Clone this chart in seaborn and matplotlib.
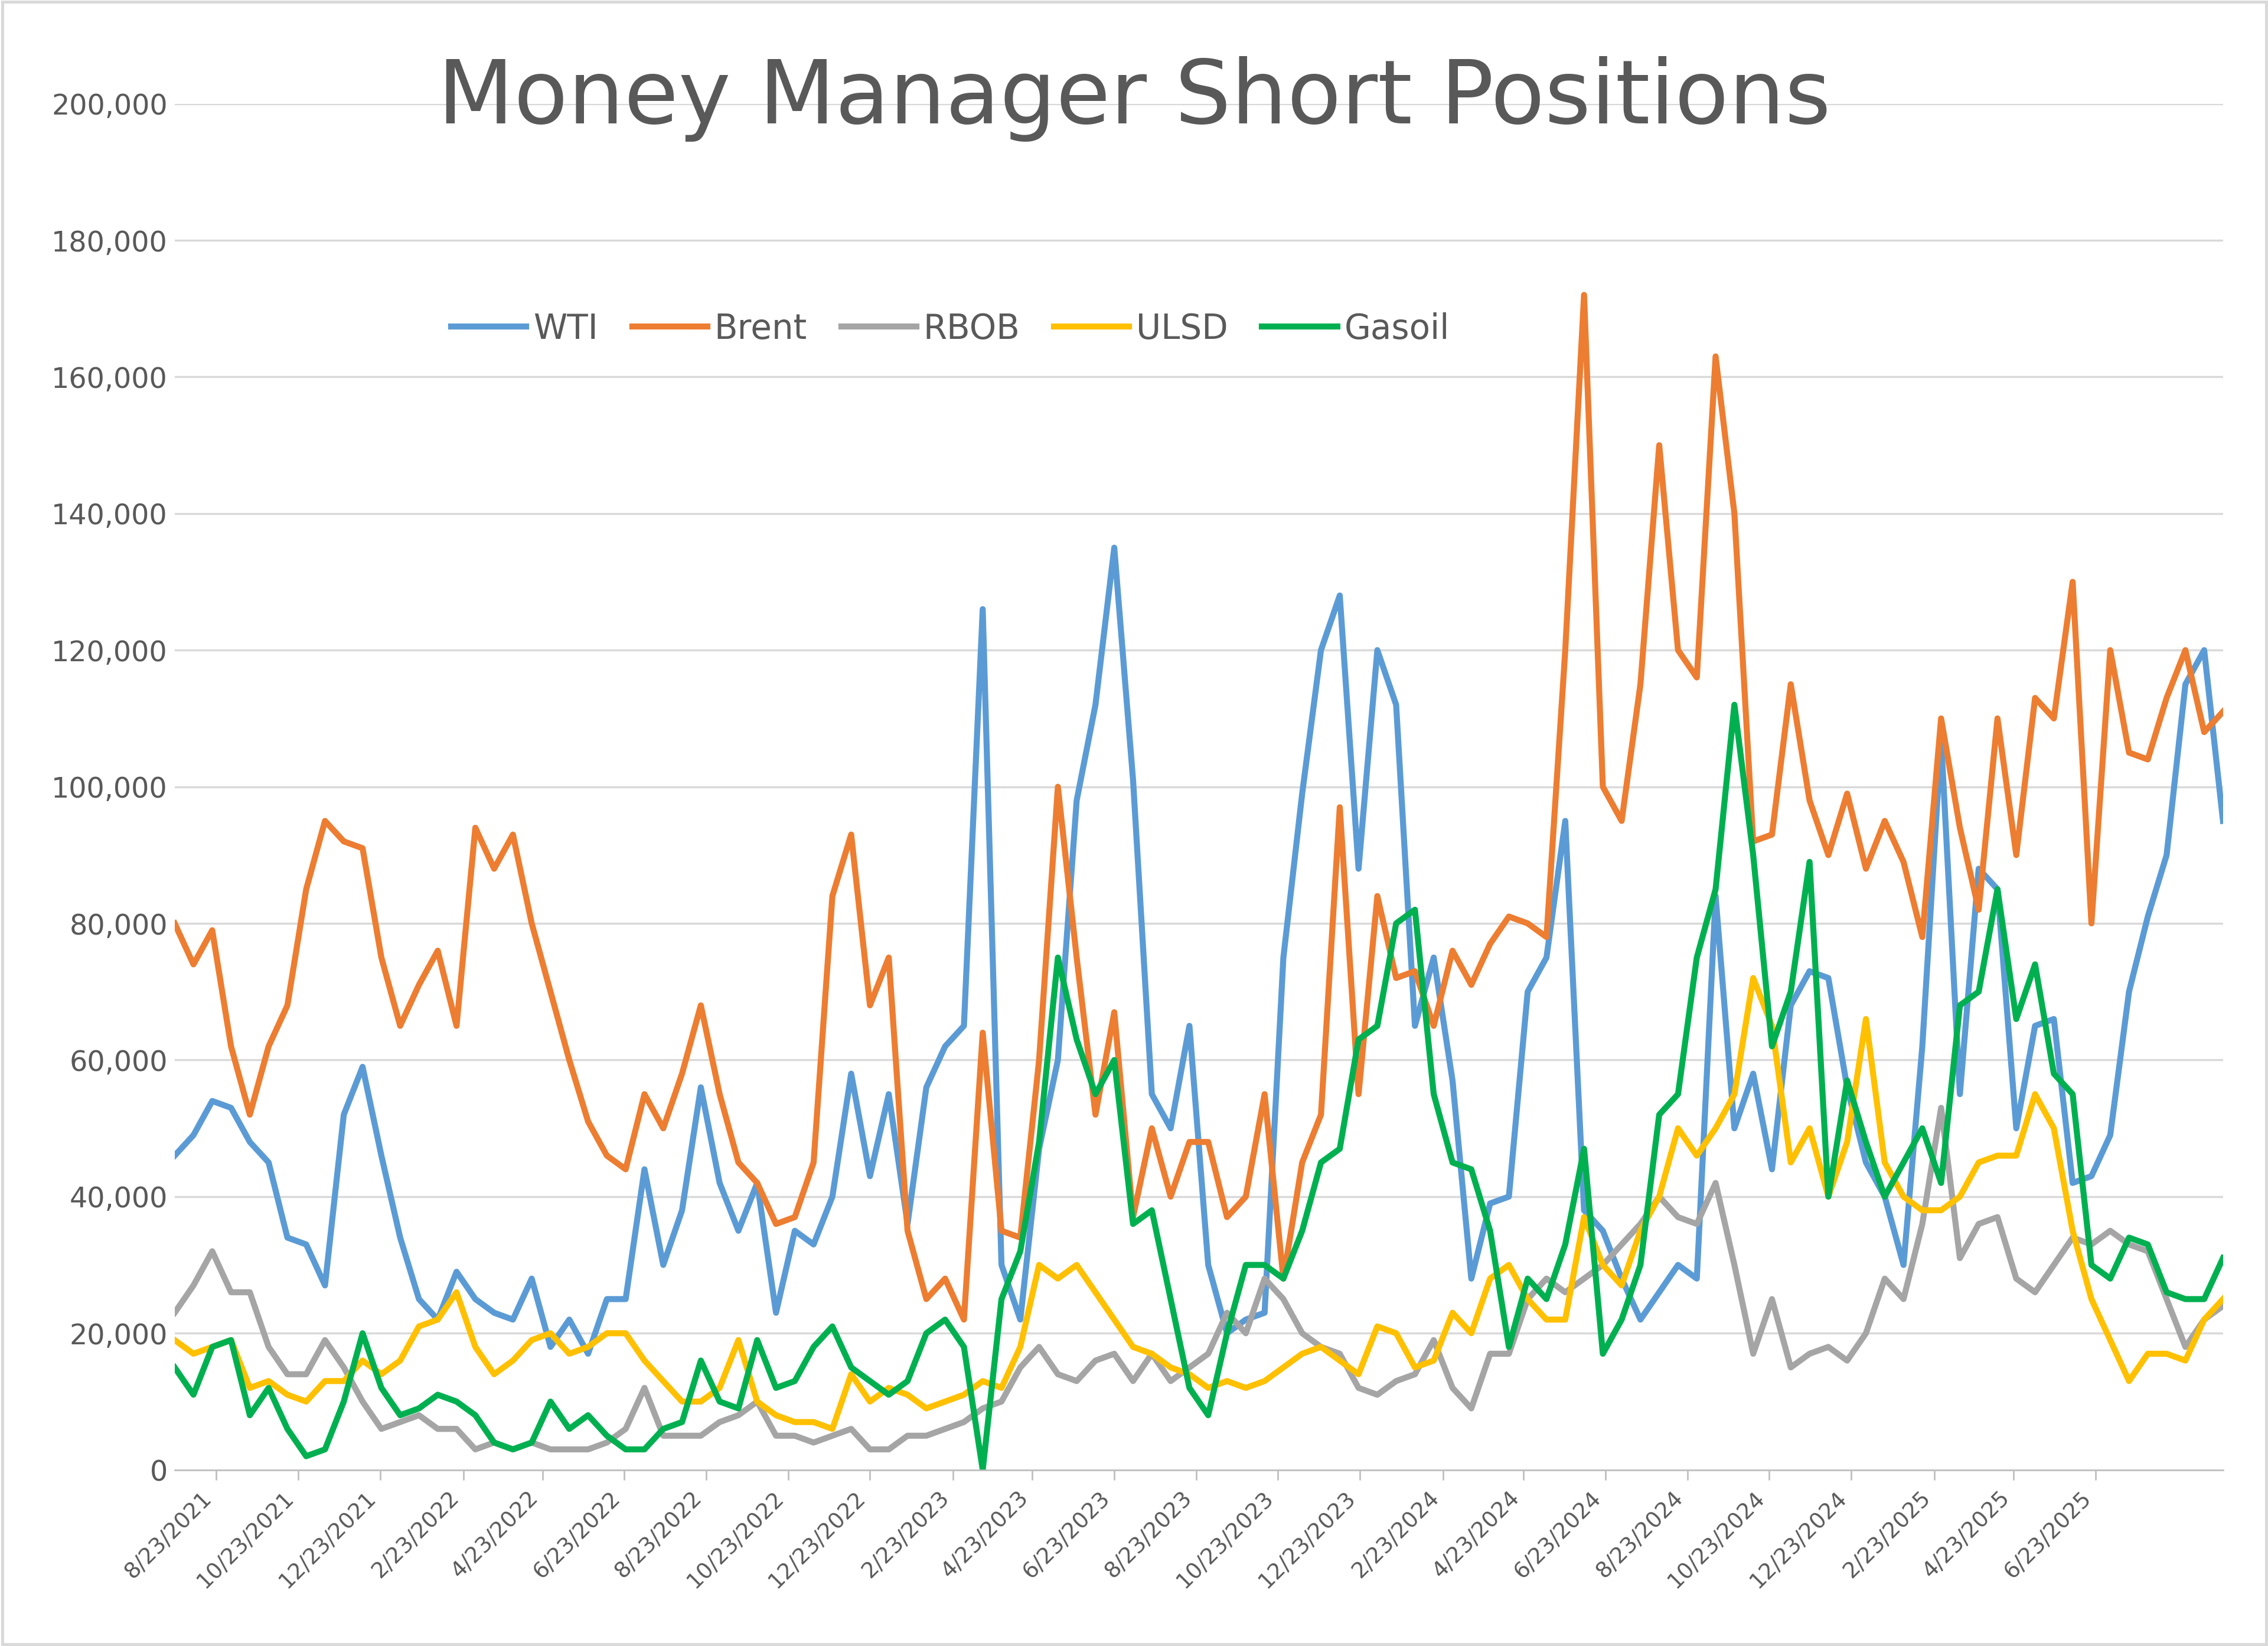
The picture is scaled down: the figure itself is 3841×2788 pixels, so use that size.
import numpy as np
import pandas as pd
import seaborn as sns
import matplotlib
matplotlib.use("Agg")
import matplotlib.pyplot as plt
import matplotlib.dates as mdates
from matplotlib.ticker import FuncFormatter

dates = pd.date_range("2021-07-23", periods=110, freq="14D")

wti = [46,49,54,53,48,45,34,33,27,52,
       59,46,34,25,22,29,25,23,22,28,
       18,22,17,25,25,44,30,38,56,42,
       35,42,23,35,33,40,58,43,55,36,
       56,62,65,126,30,22,47,60,98,112,
       135,101,55,50,65,30,20,22,23,75,
       99,120,128,88,120,112,65,75,57,28,
       39,40,70,75,95,38,35,28,22,26,
       30,28,84,50,58,44,68,73,72,56,
       45,40,30,62,107,55,88,85,50,65,
       66,42,43,49,70,81,90,115,120,95]
brent = [80,74,79,62,52,62,68,85,95,92,
         91,75,65,71,76,65,94,88,93,80,
         70,60,51,46,44,55,50,58,68,55,
         45,42,36,37,45,84,93,68,75,35,
         25,28,22,64,35,34,60,100,75,52,
         67,37,50,40,48,48,37,40,55,28,
         45,52,97,55,84,72,73,65,76,71,
         77,81,80,78,120,172,100,95,115,150,
         120,116,163,140,92,93,115,98,90,99,
         88,95,89,78,110,94,82,110,90,113,
         110,130,80,120,105,104,113,120,108,111]
rbob = [23,27,32,26,26,18,14,14,19,15,
        10,6,7,8,6,6,3,4,3,4,
        3,3,3,4,6,12,5,5,5,7,
        8,10,5,5,4,5,6,3,3,5,
        5,6,7,9,10,15,18,14,13,16,
        17,13,17,13,15,17,23,20,28,25,
        20,18,17,12,11,13,14,19,12,9,
        17,17,25,28,26,28,30,33,36,40,
        37,36,42,30,17,25,15,17,18,16,
        20,28,25,36,53,31,36,37,28,26,
        30,34,33,35,33,32,25,18,22,24]
ulsd = [19,17,18,19,12,13,11,10,13,13,
        16,14,16,21,22,26,18,14,16,19,
        20,17,18,20,20,16,13,10,10,12,
        19,10,8,7,7,6,14,10,12,11,
        9,10,11,13,12,18,30,28,30,26,
        22,18,17,15,14,12,13,12,13,15,
        17,18,16,14,21,20,15,16,23,20,
        28,30,25,22,22,37,30,27,35,40,
        50,46,50,55,72,65,45,50,40,48,
        66,45,40,38,38,40,45,46,46,55,
        50,35,25,19,13,17,17,16,22,25]
gasoil = [15,11,18,19,8,12,6,2,3,10,
          20,12,8,9,11,10,8,4,3,4,
          10,6,8,5,3,3,6,7,16,10,
          9,19,12,13,18,21,15,13,11,13,
          20,22,18,0,25,32,48,75,63,55,
          60,36,38,25,12,8,20,30,30,28,
          35,45,47,63,65,80,82,55,45,44,
          35,18,28,25,33,47,17,22,30,52,
          55,75,85,112,90,62,70,89,40,57,
          48,40,45,50,42,68,70,85,66,74,
          58,55,30,28,34,33,26,25,25,31]

series = {"WTI": wti, "Brent": brent, "RBOB": rbob, "ULSD": ulsd, "Gasoil": gasoil}
colors = {"WTI": "#5B9BD5", "Brent": "#ED7D31", "RBOB": "#A5A5A5", "ULSD": "#FFC000", "Gasoil": "#00B050"}

rows = []
for name, vals in series.items():
    for d, v in zip(dates, vals):
        rows.append({"date": d, "value": v * 1000, "series": name})
df = pd.DataFrame(rows)

fig = plt.figure(figsize=(15.68, 11.38), dpi=245)
ax = fig.add_axes([0.077, 0.107, 0.903, 0.83])
sns.lineplot(data=df, x="date", y="value", hue="series", palette=colors, linewidth=3, ax=ax)

ax.set_ylim(0, 200000)
ax.set_yticks(range(0, 200001, 20000))
ax.yaxis.set_major_formatter(FuncFormatter(lambda v, p: f"{int(v):,}"))
ax.set_xlim(dates[0], dates[-1])
ticks = pd.date_range("2021-07-23", "2025-07-23", freq="2MS") + pd.Timedelta(days=22)
ax.set_xticks(ticks)
ax.set_xticklabels([f"{t.month}/{t.day}/{t.year}" for t in ticks], rotation=45, ha="right",
                   fontsize=11, color="#595959")
ax.tick_params(axis="y", labelsize=14, colors="#595959", length=0)
ax.tick_params(axis="x", length=5, color="#BFBFBF")
ax.grid(axis="y", color="#D9D9D9", linewidth=1)
ax.set_axisbelow(True)
for s in ["top", "right", "left"]:
    ax.spines[s].set_visible(False)
ax.spines["bottom"].set_color("#BFBFBF")
ax.set_xlabel("")
ax.set_ylabel("")
leg = ax.legend(loc="upper left", bbox_to_anchor=(0.12, 0.87), ncol=5, frameon=False,
                fontsize=17, handlelength=2.2, columnspacing=1.0, handletextpad=0.2)
for t in leg.get_texts():
    t.set_color("#595959")
fig.text(0.5, 0.94, "Money Manager Short Positions", ha="center", va="center",
         fontsize=44, color="#595959")
fig.patches.append(plt.Rectangle((0.001, 0.001), 0.998, 0.998, transform=fig.transFigure,
                                 fill=False, edgecolor="#D9D9D9", linewidth=1.5))
fig.savefig("out.png", dpi=245, facecolor="white")
